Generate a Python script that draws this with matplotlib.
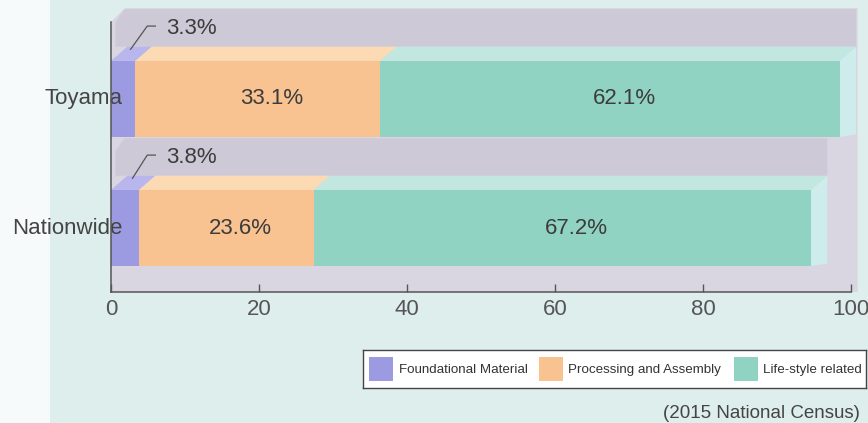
import matplotlib
matplotlib.use('Agg')
import matplotlib.pyplot as plt
from matplotlib.patches import Polygon, Rectangle
from matplotlib import font_manager
import numpy as np

# share of manufacturing by industry type, %
regions = ['Nationwide', 'Toyama']
foundational = [3.8, 3.3]
processing = [23.6, 33.1]
lifestyle = [67.2, 62.1]
categories = ['Foundational Material', 'Processing and Assembly', 'Life-style related']
xticks = [0, 20, 40, 60, 80, 100]
source = '(2015 National Census)'

front = ['#9c9ae0', '#f8c291', '#91d3c3']
top = ['#b9b6ee', '#fbdab4', '#c2e7e0']
side = '#cdeceb'
bg = '#deeeec'
box = '#d9d6e2'
band = '#cdc9d6'
txt = '#3c3c3c'

names = {f.name for f in font_manager.fontManager.ttflist}
font = 'Liberation Sans' if 'Liberation Sans' in names else 'DejaVu Sans'
narrow = 'Liberation Sans Narrow' if 'Liberation Sans Narrow' in names else font
plt.rcParams['font.family'] = font

fig = plt.figure(figsize=(8.68, 4.23), dpi=100, facecolor=bg)
fig.patches.append(Rectangle((0, 0), 50 / 868, 1, transform=fig.transFigure,
                             facecolor='#f6fafa', edgecolor='none', zorder=-5))

ax = fig.add_axes([111 / 868, 1 - 292 / 423, 740 / 868, 284 / 423])
ax.set_facecolor('none')
ax.set_xlim(0, 100)
ax.set_ylim(-0.496, 1.705)

y = np.arange(len(regions))
h = 0.59       # bar thickness
dx, dy = 2.2, 0.11   # depth of the 3D faces

# grey box behind the bars
ax.add_patch(Polygon([(0, -0.496), (0, 1.597), (1.9, 1.705), (100.9, 1.705), (100.9, -0.496)],
                     closed=True, facecolor=box, edgecolor='none', zorder=0, clip_on=False))

series = [foundational, processing, lifestyle]
for i, yi in enumerate(y):
    vals = [s[i] for s in series]
    total = sum(vals)
    yt = yi + h / 2
    # shadow band above each bar
    ax.add_patch(Polygon([(0.6, yt + dy), (0.6, yt + 0.3), (1.8, yt + dy + 0.29),
                          (total + dx, yt + dy + 0.29), (total + dx, yt + dy)],
                         closed=True, facecolor=band, edgecolor='none', zorder=1, clip_on=False))
    left = 0
    for k, v in enumerate(vals):
        ax.barh(yi, v, left=left, height=h, color=front[k], zorder=3)
        ax.add_patch(Polygon([(left, yt), (left + dx, yt + dy), (left + v + dx, yt + dy), (left + v, yt)],
                             closed=True, facecolor=top[k], edgecolor='none', zorder=2, clip_on=False))
        left += v
    ax.add_patch(Polygon([(total, yt), (total + dx, yt + dy), (total + dx, yi - h / 2 + 0.02),
                          (total, yi - h / 2)],
                         closed=True, facecolor=side, edgecolor='none', zorder=2, clip_on=False))

    # value labels inside the bars
    ax.text(foundational[i] + processing[i] / 2 + 1.9, yi, f'{processing[i]}%',
            ha='center', va='center', fontsize=16, color=txt, zorder=5)
    ax.text(foundational[i] + processing[i] + lifestyle[i] / 2 + 1.9, yi, f'{lifestyle[i]}%',
            ha='center', va='center', fontsize=16, color=txt, zorder=5)

    # small segment gets a leader line
    f = foundational[i]
    ax.plot([f / 2 + 1.0, 4.9, 6.0], [yt + 0.09, yt + 0.27, yt + 0.27],
            color='#555555', lw=0.9, zorder=5, clip_on=False)
    ax.text(7.4, yt + 0.25, f'{f}%', ha='left', va='center', fontsize=16, color=txt, zorder=5)

    # region name, overlapping the start of the bar
    ax.text(1.6, yi, regions[i], ha='right', va='center', fontsize=16, color='#444444',
            zorder=6, clip_on=False)

ax.set_yticks([])
ax.set_xticks(xticks)
ax.set_xticklabels([str(t) for t in xticks], fontsize=16, color='#555555')
ax.tick_params(axis='x', direction='in', length=6, width=1, color='#555555', pad=5)

for s in ['top', 'right']:
    ax.spines[s].set_visible(False)
for s in ['left', 'bottom']:
    ax.spines[s].set_color('#555555')
    ax.spines[s].set_linewidth(1.1)
    ax.spines[s].set_zorder(6)
ax.spines['left'].set_bounds(-0.496, 1.597)

# legend strip
leg = fig.add_axes([363 / 868, 1 - 388 / 423, 503 / 868, 38 / 423])
leg.set_xlim(0, 503)
leg.set_ylim(0, 38)
leg.set_xticks([])
leg.set_yticks([])
leg.set_facecolor('white')
for s in leg.spines.values():
    s.set_color('#444444')
    s.set_linewidth(1.0)
for x0, xt, c, name in zip([6, 176, 371], [36, 205, 400], front, categories):
    leg.add_patch(Rectangle((x0, 7), 24, 24, facecolor=c, edgecolor='none'))
    leg.text(xt, 18.5, name, family=narrow, fontsize=11 if narrow != font else 9.6,
             ha='left', va='center', color='#333333')

fig.text(860 / 868, 1 - 413 / 423, source, ha='right', va='center', fontsize=13.5, color='#444444')

fig.savefig('out.png', dpi=100, facecolor=bg)
